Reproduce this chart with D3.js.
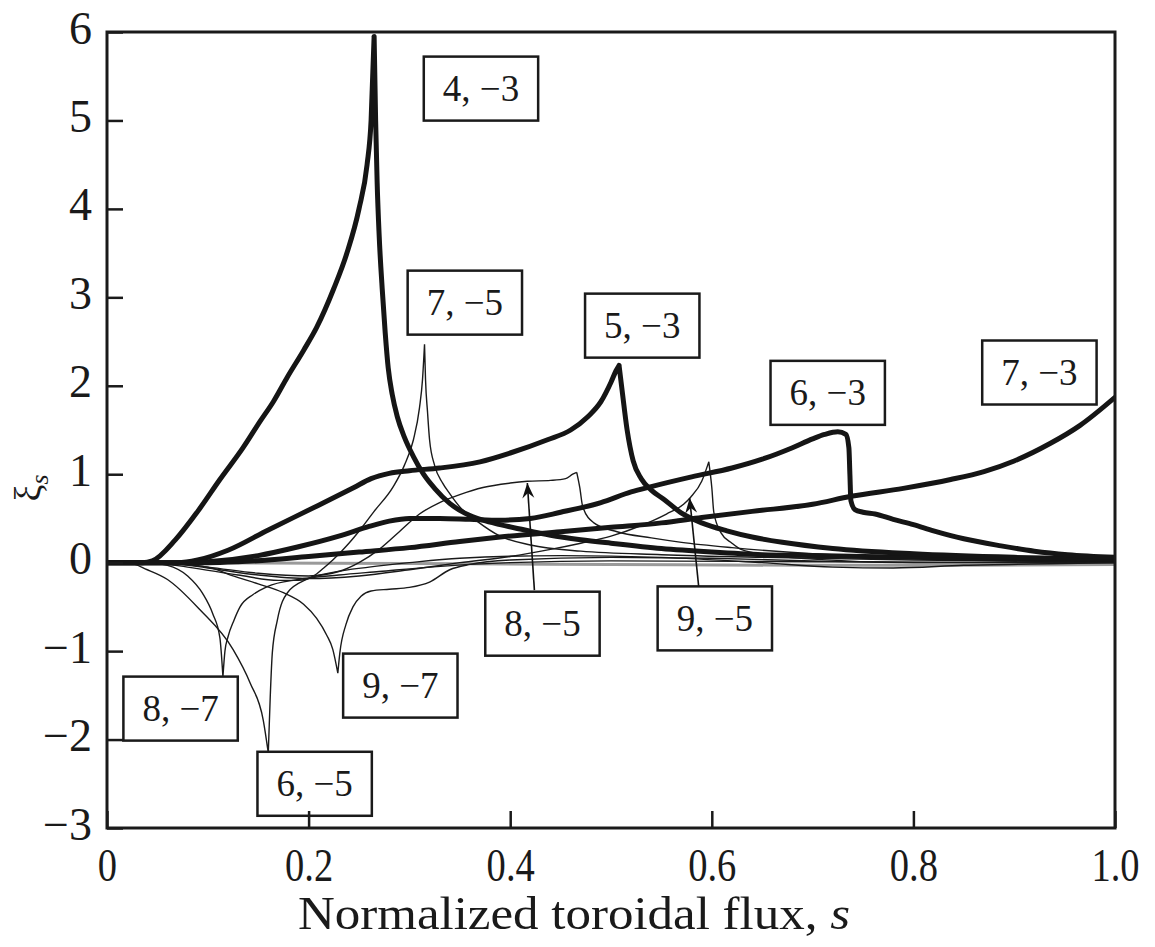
<!DOCTYPE html>
<html>
<head>
<meta charset="utf-8">
<script src="https://cdn.jsdelivr.net/npm/d3@7"></script>
<style>
  body { margin: 0; background: #fff; }
  svg { display: block; }
</style>
</head>
<body>
<div id="chart"></div>
<script>
/* Axis values. */
const xTicks = [0, 0.2, 0.4, 0.6, 0.8, 1.0];
const yTicks = [-3, -2, -1, 0, 1, 2, 3, 4, 5, 6];

/* Harmonics (m, n): each is a list of branches, a branch ends at a cusp. */
const m4n3 = [
    [[0, 0], [0.035, 0], [0.045, 0.02], [0.068, 0.26], [0.09, 0.58], [0.112, 0.94], [0.135, 1.3], [0.152, 1.6], [0.165, 1.82], [0.179, 2.1], [0.195, 2.4], [0.208, 2.66], [0.225, 3.1], [0.238, 3.5], [0.25, 4.0], [0.258, 4.5], [0.262, 5.0], [0.265, 5.95]],
    [[0.265, 5.95], [0.2665, 5.0], [0.268, 4.3], [0.27, 3.7], [0.273, 3.1], [0.276, 2.6], [0.279, 2.2], [0.283, 1.9], [0.288, 1.65], [0.295, 1.42], [0.304, 1.2], [0.314, 1.0], [0.325, 0.84], [0.34, 0.67], [0.355, 0.56], [0.373, 0.48], [0.39, 0.43], [0.41, 0.38], [0.44, 0.31], [0.47, 0.26], [0.5, 0.22], [0.55, 0.16], [0.6, 0.12], [0.65, 0.09], [0.7, 0.08], [0.8, 0.06], [0.9, 0.04], [1.0, 0.03]]
];
const m5n3 = [
    [[0, 0], [0.07, 0], [0.09, 0.03], [0.12, 0.14], [0.16, 0.37], [0.21, 0.65], [0.245, 0.85], [0.262, 0.95], [0.28, 1.01], [0.3, 1.04], [0.33, 1.07], [0.37, 1.14], [0.4, 1.24], [0.437, 1.39], [0.46, 1.5], [0.477, 1.65], [0.49, 1.82], [0.5, 2.04], [0.505, 2.17], [0.508, 2.23]],
    [[0.508, 2.23], [0.511, 1.95], [0.516, 1.5], [0.522, 1.15], [0.53, 0.95], [0.54, 0.82], [0.552, 0.72], [0.57, 0.56], [0.59, 0.45], [0.615, 0.36], [0.64, 0.29], [0.67, 0.23], [0.72, 0.16], [0.8, 0.1], [0.9, 0.06], [1.0, 0.04]]
];
const m6n3 = [
    [[0, 0], [0.08, 0], [0.1, 0.01], [0.15, 0.08], [0.19, 0.18], [0.23, 0.3], [0.26, 0.41], [0.28, 0.47], [0.3, 0.5], [0.33, 0.5], [0.36, 0.49], [0.39, 0.48], [0.42, 0.5], [0.45, 0.57], [0.49, 0.68], [0.52, 0.8], [0.54, 0.86], [0.58, 0.97], [0.62, 1.07], [0.65, 1.17], [0.68, 1.3], [0.7, 1.4], [0.712, 1.45], [0.725, 1.48], [0.733, 1.45], [0.736, 1.3], [0.737, 1.0], [0.738, 0.7], [0.742, 0.6], [0.75, 0.57], [0.762, 0.55], [0.78, 0.49], [0.8, 0.43], [0.82, 0.36], [0.85, 0.27], [0.887, 0.19], [0.92, 0.13], [0.953, 0.09], [1.0, 0.06]]
];
const m7n3 = [
    [[0, 0], [0.1, 0], [0.13, 0.01], [0.2, 0.07], [0.25, 0.12], [0.3, 0.17], [0.35, 0.24], [0.39, 0.29], [0.45, 0.35], [0.5, 0.4], [0.55, 0.45], [0.59, 0.51], [0.64, 0.58], [0.7, 0.66], [0.738, 0.75], [0.79, 0.84], [0.837, 0.94], [0.87, 1.03], [0.9, 1.15], [0.936, 1.35], [0.965, 1.55], [1.0, 1.87]]
];
const m7n5 = [
    [[0, 0], [0.04, 0], [0.08, -0.05], [0.13, -0.14], [0.17, -0.2], [0.19, -0.2], [0.205, -0.15], [0.215, -0.06], [0.224, 0.03], [0.24, 0.22], [0.251, 0.37], [0.265, 0.58], [0.284, 0.86], [0.295, 1.1], [0.304, 1.39], [0.31, 1.75], [0.313, 2.07], [0.315, 2.47]],
    [[0.315, 2.47], [0.316, 2.07], [0.318, 1.7], [0.32, 1.39], [0.325, 1.1], [0.333, 0.9], [0.34, 0.78], [0.35, 0.63], [0.367, 0.47], [0.39, 0.3], [0.42, 0.2], [0.47, 0.13], [0.55, 0.09], [0.65, 0.06], [0.8, 0.03], [1.0, 0.01]]
];
const m8n5 = [
    [[0, 0], [0.05, 0], [0.1, -0.05], [0.15, -0.12], [0.2, -0.15], [0.23, -0.1], [0.25, 0.0], [0.27, 0.15], [0.29, 0.35], [0.31, 0.55], [0.33, 0.68], [0.35, 0.77], [0.373, 0.85], [0.4, 0.9], [0.417, 0.92], [0.44, 0.93], [0.455, 0.95], [0.462, 1.0], [0.466, 1.02]],
    [[0.466, 1.02], [0.469, 0.85], [0.472, 0.63], [0.483, 0.45], [0.506, 0.35], [0.54, 0.28], [0.57, 0.23], [0.62, 0.17], [0.7, 0.1], [0.8, 0.05], [0.9, 0.02], [1.0, 0.01]]
];
const m9n5 = [
    [[0, 0], [0.05, 0], [0.1, -0.06], [0.15, -0.14], [0.2, -0.18], [0.25, -0.15], [0.3, -0.08], [0.35, 0], [0.4, 0.07], [0.44, 0.15], [0.47, 0.22], [0.5, 0.3], [0.53, 0.42], [0.555, 0.55], [0.572, 0.66], [0.579, 0.74], [0.59, 0.92], [0.597, 1.14]],
    [[0.597, 1.14], [0.6, 0.85], [0.602, 0.57], [0.609, 0.34], [0.62, 0.22], [0.629, 0.15], [0.66, 0.08], [0.7, 0.04], [0.8, 0.0], [1.0, 0.0]]
];
const m6n5 = [
    [[0, 0], [0.02, 0], [0.04, -0.08], [0.06, -0.19], [0.092, -0.53], [0.125, -0.98], [0.142, -1.36], [0.155, -1.78], [0.16, -2.15]],
    [[0.16, -2.15], [0.162, -1.5], [0.164, -1.02], [0.169, -0.65], [0.179, -0.34], [0.198, -0.19], [0.224, -0.11], [0.26, -0.05], [0.3, 0.0], [0.35, 0.05], [0.45, 0.08], [0.55, 0.06], [0.65, 0.0], [0.72, -0.05], [0.78, -0.06], [0.85, -0.03], [0.95, -0.01], [1.0, 0.0]]
];
const m8n7 = [
    [[0, 0], [0.04, 0], [0.06, -0.03], [0.08, -0.15], [0.095, -0.35], [0.105, -0.58], [0.112, -0.85], [0.115, -1.29]],
    [[0.115, -1.29], [0.117, -1.0], [0.12, -0.84], [0.126, -0.65], [0.132, -0.5], [0.145, -0.36], [0.159, -0.27], [0.19, -0.19], [0.23, -0.14], [0.27, -0.1], [0.32, -0.05], [0.4, 0.0], [0.5, 0.02], [0.7, 0.01], [1.0, 0.0]]
];
const m9n7 = [
    [[0, 0], [0.05, 0], [0.1, -0.05], [0.125, -0.15], [0.15, -0.24], [0.175, -0.34], [0.195, -0.47], [0.208, -0.63], [0.218, -0.82], [0.224, -0.98], [0.229, -1.25]],
    [[0.229, -1.25], [0.231, -1.02], [0.237, -0.7], [0.244, -0.5], [0.252, -0.38], [0.262, -0.32], [0.28, -0.3], [0.3, -0.28], [0.32, -0.22], [0.34, -0.08], [0.36, -0.02], [0.4, 0.03], [0.5, 0.06], [0.6, 0.05], [0.7, 0.02], [0.8, 0.0], [1.0, 0.0]]
];
const baseGrey = [
    [[0, 0], [0.3, -0.01], [0.5, -0.02], [0.7, -0.03], [0.85, -0.03], [1.0, -0.02]]
];

const thickCurves = [m4n3, m5n3, m6n3, m7n3];
const thinCurves = [m7n5, m8n5, m9n5, m6n5, m8n7, m9n7];

/* Boxed labels: text and box centre in data units. */
const labelNames = ['4, \u22123', '7, \u22125', '5, \u22123', '6, \u22123', '7, \u22123', '8, \u22125', '9, \u22125', '8, \u22127', '9, \u22127', '6, \u22125'];
const labelS = [0.371, 0.355, 0.531, 0.715, 0.925, 0.432, 0.603, 0.073, 0.291, 0.206];
const labelXi = [5.36, 2.94, 2.68, 1.92, 2.15, -0.69, -0.63, -1.65, -1.39, -2.50];

/* Arrows: from box top to curve. */
const arrowFrom = [[0.424, -0.31], [0.587, -0.27]];
const arrowTo = [[0.417, 0.90], [0.578, 0.73]];

const W = 1155, H = 947;
const FONT = '"Liberation Serif", "Times New Roman", serif';

const svg = d3.select('#chart').append('svg')
    .attr('width', W)
    .attr('height', H)
    .style('font-family', FONT);

const x = d3.scaleLinear().domain([0, 1]).range([107, 1115]);
const y = d3.scaleLinear().domain([-3, 6]).range([828, 32]);

// Arrow marker.
svg.append('defs').append('marker')
    .attr('id', 'head')
    .attr('viewBox', '-16 -7 18 14')
    .attr('refX', 0).attr('refY', 0)
    .attr('markerWidth', 18).attr('markerHeight', 14)
    .attr('markerUnits', 'userSpaceOnUse')
    .attr('orient', 'auto')
    .append('path')
    .attr('d', 'M0,0 L-15,-6 L-10,0 L-15,6 Z')
    .attr('fill', '#111');

svg.append('clipPath').attr('id', 'plotClip')
    .append('rect')
    .attr('x', x(0)).attr('y', y(6))
    .attr('width', x(1) - x(0)).attr('height', y(-3) - y(6));

const line = d3.line()
    .x(d => x(d[0]))
    .y(d => y(d[1]))
    .curve(d3.curveMonotoneX);

function curvePath(branches) {
    return branches.map(b => line(b)).join('');
}

const plot = svg.append('g').attr('clip-path', 'url(#plotClip)');

// Grey baseline band.
plot.append('path')
    .attr('d', curvePath(baseGrey))
    .attr('fill', 'none')
    .attr('stroke', '#9a9a9a')
    .attr('stroke-width', 3);

// Thin curves.
plot.selectAll('path.thin')
    .data(thinCurves)
    .enter()
    .append('path')
    .attr('class', 'thin')
    .attr('d', d => curvePath(d))
    .attr('fill', 'none')
    .attr('stroke', '#1a1a1a')
    .attr('stroke-width', 1.4)
    .attr('stroke-linejoin', 'round');

// Thick curves.
plot.selectAll('path.thick')
    .data(thickCurves)
    .enter()
    .append('path')
    .attr('class', 'thick')
    .attr('d', d => curvePath(d))
    .attr('fill', 'none')
    .attr('stroke', '#151515')
    .attr('stroke-width', 5)
    .attr('stroke-linejoin', 'round')
    .attr('stroke-linecap', 'round');

// Arrows.
svg.selectAll('line.arrow')
    .data(arrowFrom)
    .enter()
    .append('line')
    .attr('class', 'arrow')
    .attr('x1', d => x(d[0]))
    .attr('y1', d => y(d[1]))
    .attr('x2', (d, i) => x(arrowTo[i][0]))
    .attr('y2', (d, i) => y(arrowTo[i][1]))
    .attr('stroke', '#111')
    .attr('stroke-width', 1.6)
    .attr('marker-end', 'url(#head)');

// Boxed labels.
const labels = svg.selectAll('g.label')
    .data(labelNames)
    .enter()
    .append('g')
    .attr('class', 'label')
    .attr('transform', (d, i) => 'translate(' + x(labelS[i]) + ',' + y(labelXi[i]) + ')');

labels.append('rect')
    .attr('fill', '#fff')
    .attr('stroke', '#1a1a1a')
    .attr('stroke-width', 2.5);

labels.append('text')
    .attr('text-anchor', 'middle')
    .attr('dy', '0.34em')
    .attr('font-size', 37)
    .attr('fill', '#1a1a1a')
    .text(d => d);

labels.each(function () {
    const g = d3.select(this);
    const bb = g.select('text').node().getBBox();
    const bw = bb.width + 38, bh = 64;
    g.select('rect')
        .attr('x', -bw / 2).attr('y', -bh / 2)
        .attr('width', bw).attr('height', bh);
});

// Axes with inward ticks.
const xAxis = svg.append('g')
    .attr('transform', 'translate(0,' + y(-3) + ')')
    .call(d3.axisBottom(x).tickValues(xTicks).tickSize(-17).tickSizeOuter(0).tickPadding(53)
        .tickFormat(d => d === 0 ? '0' : d.toFixed(1)));
xAxis.select('.domain').remove();
xAxis.selectAll('line').attr('stroke', '#1a1a1a').attr('stroke-width', 2.5);
xAxis.selectAll('text')
    .attr('dy', 0)
    .attr('font-family', FONT)
    .attr('font-size', 47)
    .attr('fill', '#1a1a1a')
    .attr('transform', 'scale(0.82,1)');

const yAxis = svg.append('g')
    .attr('transform', 'translate(' + x(0) + ',0)')
    .call(d3.axisLeft(y).tickValues(yTicks).tickSize(-16).tickSizeOuter(0).tickPadding(15));
yAxis.select('.domain').remove();
yAxis.selectAll('line').attr('stroke', '#1a1a1a').attr('stroke-width', 2.5);
yAxis.selectAll('text')
    .attr('dy', 11)
    .attr('font-family', FONT)
    .attr('font-size', 46)
    .attr('fill', '#1a1a1a');

// Frame.
svg.append('rect')
    .attr('x', x(0)).attr('y', y(6))
    .attr('width', x(1) - x(0)).attr('height', y(-3) - y(6))
    .attr('fill', 'none')
    .attr('stroke', '#1a1a1a')
    .attr('stroke-width', 3);

// Axis titles.
const xTitle = svg.append('text')
    .attr('x', 574).attr('y', 929)
    .attr('text-anchor', 'middle')
    .attr('font-size', 46)
    .attr('fill', '#1a1a1a')
    .attr('textLength', 552)
    .attr('lengthAdjust', 'spacingAndGlyphs');
xTitle.append('tspan').text('Normalized toroidal flux, ');
xTitle.append('tspan').attr('font-style', 'italic').text('s');

const yTitle = svg.append('text')
    .attr('transform', 'translate(41,488) rotate(-90)')
    .attr('text-anchor', 'middle')
    .attr('font-size', 38)
    .attr('fill', '#1a1a1a');
yTitle.append('tspan').text('\u03BE');
yTitle.append('tspan').attr('font-size', 26).attr('font-style', 'italic').attr('dy', 7).text('s');
</script>
</body>
</html>
